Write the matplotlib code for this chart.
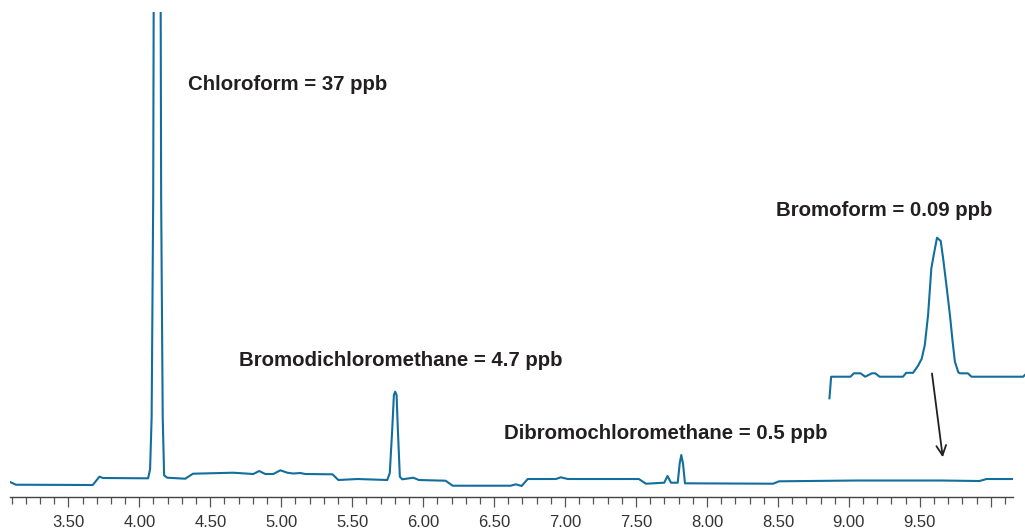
import numpy as np
import matplotlib
matplotlib.use('Agg')
import matplotlib.pyplot as plt
from matplotlib.ticker import MultipleLocator, FuncFormatter

# chromatogram trace, retention time (min) vs detector signal
main_time = [3.089, 3.131, 3.672, 3.719, 3.745, 4.062,
             4.076, 4.087, 4.098, 4.105, 4.126, 4.147, 4.154, 4.165, 4.175,
             4.197, 4.324, 4.378, 4.662, 4.803, 4.845, 4.888, 4.944, 4.994,
             5.043, 5.085, 5.135, 5.170, 5.361, 5.403, 5.537, 5.747,
             5.765, 5.782, 5.794, 5.803, 5.813, 5.822, 5.836, 5.853,
             5.931, 5.970, 6.158, 6.208, 6.617, 6.653, 6.688, 6.694, 6.737,
             6.935, 6.970, 7.019, 7.520, 7.570, 7.699, 7.722, 7.747, 7.794,
             7.808, 7.819, 7.831, 7.845, 8.466, 8.508, 9.050, 9.650,
             9.920, 9.970, 10.167]
main_signal = [15.3, 12.6, 12.3, 20.6, 19.3, 19.0,
               28, 80, 300, 700, 1400, 700, 300, 80, 22,
               19.6, 18.6, 23.6, 24.6, 23.3, 26.3, 23.3, 23.3, 27.0,
               24.6, 23.8, 24.3, 23.3, 23.0, 17.3, 18.3, 17.3,
               24.3, 67.3, 102.3, 105.6, 102.3, 67.3, 20.6, 18.0,
               19.6, 17.3, 16.6, 11.6, 11.6, 13.0, 11.6, 11.3, 18.3,
               18.3, 20.0, 18.3, 18.3, 13.6, 14.6, 21.3, 14.6, 14.6,
               34.0, 42.3, 34.0, 14.0, 13.6, 16.0, 16.8, 16.8,
               16.3, 18.3, 18.3]

# expanded view of the bromoform region
zoom_time = [8.863, 8.875, 9.011, 9.035, 9.082, 9.115, 9.162, 9.186, 9.216,
             9.381, 9.404, 9.452, 9.487, 9.513, 9.535, 9.558, 9.581, 9.600,
             9.621, 9.647, 9.664, 9.687, 9.712, 9.731, 9.747, 9.771, 9.782,
             9.838, 9.864, 10.228, 10.240]
zoom_signal = [99.0, 120.6, 120.6, 124.0, 124.0, 120.6, 124.0, 124.0, 120.6,
               120.6, 124.5, 124.5, 131.5, 138.5, 152.3, 182.3, 229.0, 244.0,
               259.6, 256.3, 239.0, 212.3, 182.3, 155.6, 135.6, 125.0, 124.0,
               124.0, 120.6, 120.6, 122.3]

peak_labels = ['Chloroform = 37 ppb', 'Bromodichloromethane = 4.7 ppb',
               'Dibromochloromethane = 0.5 ppb', 'Bromoform = 0.09 ppb']
label_x = [4.343, 4.700, 6.570, 8.487]
label_y = [413, 136.6, 64.3, 287]

trace_color = '#126e9c'
text_color = '#231f20'

fig = plt.figure(figsize=(10.25, 5.29), dpi=100)
ax = fig.add_axes([0.00976, 0.0599, 0.9782, 0.9174])

ax.plot(main_time, main_signal, color=trace_color, lw=1.5, solid_joinstyle='round')
ax.plot(zoom_time, zoom_signal, color=trace_color, lw=1.5, clip_on=False,
        solid_joinstyle='round')

for txt, x, y in zip(peak_labels, label_x, label_y):
    ax.text(x, y, txt, fontsize=14.7, fontweight='bold', color=text_color,
            family='Liberation Sans', va='center', ha='left')

ax.annotate('', xy=(9.664, 37.3), xytext=(9.583, 126.6),
            arrowprops=dict(arrowstyle='->,head_length=0.7,head_width=0.35',
                            color=text_color, lw=1.3))

ax.set_xlim(3.089, 10.154)
ax.set_ylim(0, 485.3)

for s in ['top', 'left', 'right']:
    ax.spines[s].set_visible(False)
ax.spines['bottom'].set_color('#444444')
ax.spines['bottom'].set_linewidth(1.0)
ax.set_yticks([])

ax.xaxis.set_major_locator(MultipleLocator(0.5))
ax.xaxis.set_minor_locator(MultipleLocator(0.1))
ax.xaxis.set_major_formatter(FuncFormatter(lambda v, p: f'{v:.2f}' if v < 9.9 else ''))
ax.tick_params(axis='x', which='major', direction='out', length=7.3, width=0.9,
               color='#555555', pad=5.5, labelsize=12, labelcolor='#333333')
ax.tick_params(axis='x', which='minor', direction='out', length=5, width=0.9,
               color='#555555')
for lbl in ax.get_xticklabels():
    lbl.set_family('Liberation Sans')

fig.savefig('out.png', dpi=100)
